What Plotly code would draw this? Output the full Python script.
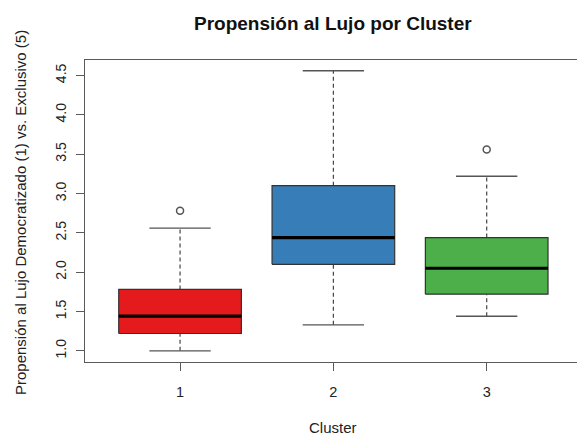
import plotly.graph_objects as go

# Summary statistics per cluster (Tukey boxplot)
clusters = [1, 2, 3]
tick_labels = ["1", "2", "3"]
q1 = [1.22, 2.10, 1.72]
median = [1.44, 2.44, 2.05]
q3 = [1.78, 3.10, 2.44]
whisker_low = [1.00, 1.33, 1.44]
whisker_high = [2.56, 4.56, 3.22]
outlier_cluster = [1, 3]
outlier_value = [2.78, 3.56]
fill_colors = ["#E41A1C", "#377EB8", "#4DAF4A"]

BOX_HALF = 0.4
CAP_HALF = 0.2
TEXT = "#222222"
FRAME = "#5a5a5a"
FONT = "Liberation Sans, Arial, sans-serif"

fig = go.Figure()

for c, lo, b1, med, b3, hi, col in zip(clusters, whisker_low, q1, median, q3,
                                        whisker_high, fill_colors):
    # dashed whiskers
    fig.add_trace(go.Scatter(
        x=[c, c, None, c, c], y=[lo, b1, None, b3, hi], mode="lines",
        line=dict(color="#444444", width=1.2, dash="4px,3px"),
        hoverinfo="skip", showlegend=False))
    # whisker caps
    fig.add_trace(go.Scatter(
        x=[c - CAP_HALF, c + CAP_HALF, None, c - CAP_HALF, c + CAP_HALF],
        y=[lo, lo, None, hi, hi], mode="lines",
        line=dict(color="#555555", width=1.4),
        hoverinfo="skip", showlegend=False))
    # box
    fig.add_trace(go.Scatter(
        x=[c - BOX_HALF, c + BOX_HALF, c + BOX_HALF, c - BOX_HALF, c - BOX_HALF],
        y=[b1, b1, b3, b3, b1], mode="lines", fill="toself", fillcolor=col,
        line=dict(color="#333333", width=1.2),
        hoverinfo="skip", showlegend=False))
    # median
    fig.add_trace(go.Scatter(
        x=[c - BOX_HALF, c + BOX_HALF], y=[med, med], mode="lines",
        line=dict(color="#000000", width=3.2),
        hoverinfo="skip", showlegend=False))

# outliers
fig.add_trace(go.Scatter(
    x=outlier_cluster, y=outlier_value, mode="markers",
    marker=dict(symbol="circle-open", size=7, color="#555555",
                line=dict(width=1.5, color="#555555")),
    hoverinfo="skip", showlegend=False))

fig.update_layout(
    width=577, height=437,
    margin=dict(l=85, r=0, t=60, b=75),
    paper_bgcolor="white", plot_bgcolor="white",
    font=dict(family=FONT, color=TEXT, size=14),
    xaxis=dict(
        range=[0.38, 3.589], tickmode="array", tickvals=clusters,
        ticktext=tick_labels, showgrid=False, zeroline=False,
        showline=True, mirror=True, linecolor=FRAME, linewidth=1.3,
        ticks="outside", ticklen=8, tickcolor=FRAME, tickwidth=1.2,
        tickfont=dict(size=14.5, color=TEXT), ticklabelstandoff=8,
    ),
    yaxis=dict(
        range=[0.858, 4.697], tickmode="array",
        tickvals=[1.0, 1.5, 2.0, 2.5, 3.0, 3.5, 4.0, 4.5],
        ticktext=["1.0", "1.5", "2.0", "2.5", "3.0", "3.5", "4.0", "4.5"],
        showgrid=False, zeroline=False,
        showline=True, mirror=False, linecolor=FRAME, linewidth=1.3,
        ticks="outside", ticklen=8, tickcolor=FRAME, tickwidth=1.2,
        tickangle=-90, tickfont=dict(size=14, color=TEXT), ticklabelstandoff=4,
    ),
    annotations=[
        dict(text="<b>Propensión al Lujo por Cluster</b>", xref="paper", yref="paper",
             x=0.5, y=1, yshift=37, xshift=2, xanchor="center", yanchor="middle",
             showarrow=False, font=dict(size=19, color="#111111", family=FONT)),
        dict(text="Cluster", xref="paper", yref="paper", x=0.5, y=0, xshift=2,
             yshift=-65, xanchor="center", yanchor="middle", showarrow=False,
             font=dict(size=15, color=TEXT, family=FONT)),
        dict(text="Propensión al Lujo Democratizado (1) vs. Exclusivo (5)",
             xref="paper", yref="paper", x=0, y=0.5, xshift=-65, yshift=-2,
             xanchor="center", yanchor="middle", textangle=-90, showarrow=False,
             font=dict(size=15, color=TEXT, family=FONT)),
    ],
)

fig.write_html("out.html")
